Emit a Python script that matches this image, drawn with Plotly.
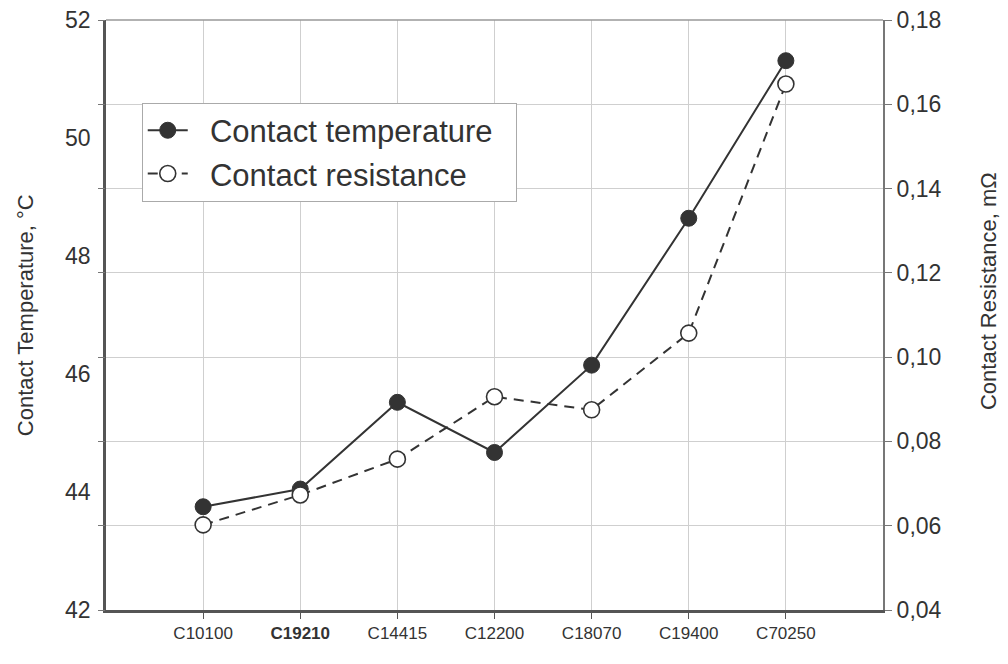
import plotly.graph_objects as go

categories = ["C10100", "C19210", "C14415", "C12200", "C18070", "C19400", "C70250"]
tick_text = ["C10100", "<b>C19210</b>", "C14415", "C12200", "C18070", "C19400", "C70250"]
temperature = [43.75, 44.05, 45.52, 44.67, 46.15, 48.64, 51.31]
resistance = [0.0602, 0.0673, 0.0758, 0.0906, 0.0875, 0.1057, 0.1648]
left_ticks = [42, 44, 46, 48, 50, 52]
right_ticks = [0.04, 0.06, 0.08, 0.10, 0.12, 0.14, 0.16, 0.18]
series_names = ["Contact temperature", "Contact resistance"]

FONT = "Liberation Sans, Arial, sans-serif"
TXT = "#333333"
AX = "#555555"
GRID = "#cfcfcf"
NB = "\u00a0"

fig = go.Figure()
fig.add_trace(go.Scatter(
    x=categories, y=temperature, name=NB * 2 + series_names[0] + NB * 2, mode="lines+markers",
    line=dict(color="#333333", width=2),
    marker=dict(symbol="circle", size=16, color="#333333", line=dict(color="#333333", width=1)),
    yaxis="y"))
fig.add_trace(go.Scatter(
    x=categories, y=resistance, name=NB * 2 + series_names[1] + NB * 2, mode="lines+markers",
    line=dict(color="#333333", width=2, dash="10px,7px"),
    marker=dict(symbol="circle", size=16, color="white", line=dict(color="#333333", width=1.6)),
    yaxis="y2"))
# invisible trace to activate the left tick-mark axis
fig.add_trace(go.Scatter(x=categories, y=resistance, yaxis="y3", mode="none",
                         showlegend=False, hoverinfo="skip"))

fig.update_layout(
    width=1000, height=656,
    margin=dict(l=98, r=125, t=12, b=54, autoexpand=False),
    paper_bgcolor="white", plot_bgcolor="white",
    separators=", ",
    font=dict(family=FONT, color=TXT),
    showlegend=True,
    legend=dict(x=0.046, y=0.86, xanchor="left", yanchor="top",
                bgcolor="white", bordercolor="#aaaaaa", borderwidth=1,
                font=dict(size=31, color=TXT, family=FONT),
                itemwidth=40, tracegroupgap=0),
    xaxis=dict(type="category", categoryorder="array", categoryarray=categories,
               range=[-1, 7], tickmode="array", tickvals=categories, ticktext=tick_text,
               showgrid=True, gridcolor=GRID, gridwidth=1,
               showline=True, linecolor=AX, linewidth=3,
               ticks="outside", ticklen=6, tickcolor=AX, tickwidth=1,
               tickfont=dict(size=17, color=TXT), zeroline=False, automargin=False),
    yaxis=dict(range=[42, 52], tickmode="array", tickvals=left_ticks,
               showgrid=False, showline=True, linecolor=AX, linewidth=2.5,
               ticks="", tickfont=dict(size=23, color=TXT), zeroline=False,
               ticklabelstandoff=8, automargin=False, ticklabeloverflow="allow"),
    yaxis2=dict(range=[0.04, 0.18], tickmode="array", tickvals=right_ticks,
                tickformat=".2f", overlaying="y", side="right",
                showgrid=True, gridcolor=GRID, gridwidth=1,
                showline=True, linecolor="#777777", linewidth=2,
                ticks="outside", ticklen=7, tickcolor="#777777",
                tickfont=dict(size=23, color=TXT), zeroline=False, automargin=False,
                ticklabeloverflow="allow"),
    yaxis3=dict(range=[0.04, 0.18], tickmode="array", tickvals=right_ticks,
                overlaying="y", side="left", showgrid=False, showline=False,
                ticks="outside", ticklen=7, tickcolor="#777777",
                showticklabels=False, zeroline=False, automargin=False),
    annotations=[
        dict(text="Contact Temperature, °C", xref="paper", yref="paper",
             x=-0.104, y=0.5, textangle=-90, showarrow=False,
             xanchor="center", yanchor="middle", font=dict(size=22, color=TXT)),
        dict(text="Contact Resistance, mΩ", xref="paper", yref="paper",
             x=1.136, y=0.54, textangle=-90, showarrow=False,
             xanchor="center", yanchor="middle", font=dict(size=22, color=TXT)),
    ],
    shapes=[dict(type="line", xref="paper", yref="paper", x0=0, x1=1, y0=1, y1=1,
                 line=dict(color="#999999", width=1.5))],
)

fig.write_html("out.html")
